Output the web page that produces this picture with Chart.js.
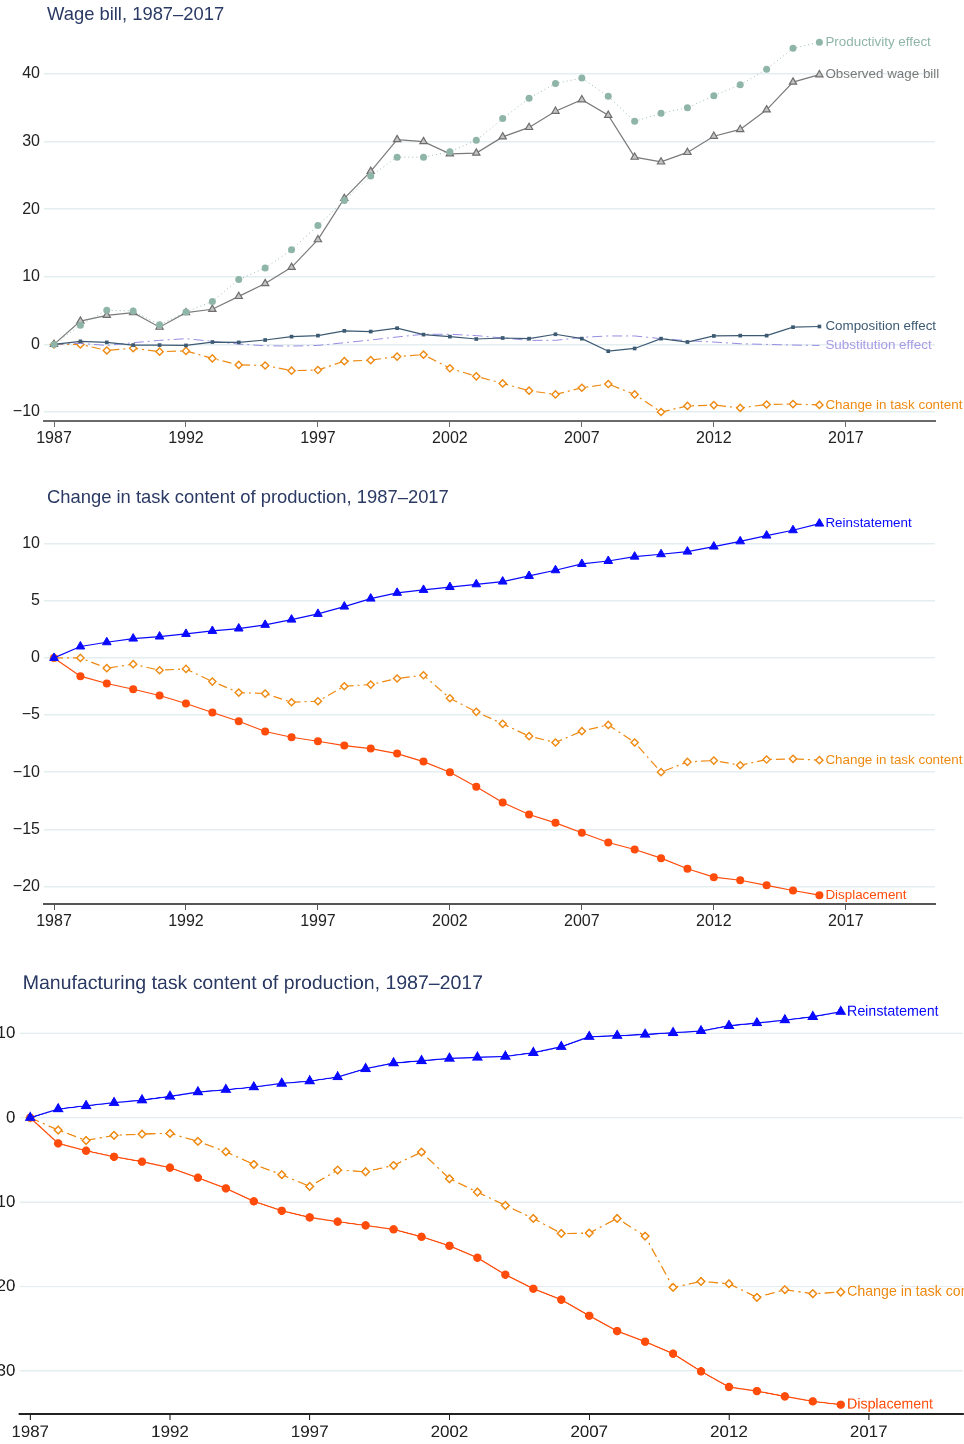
<!DOCTYPE html>
<html>
<head>
<meta charset="utf-8">
<script src="https://cdn.jsdelivr.net/npm/chart.js@4.4.1/dist/chart.umd.min.js"></script>
<style>
  html, body { margin:0; padding:0; background:#fff; }
  body { width:964px; height:1444px; overflow:hidden; position:relative; }
  .panel { position:absolute; left:0; width:964px; height:483px; }
  #p1 { top:0; }
  #p2 { top:483px; }
  /* third panel is a slightly enlarged copy, cut on both sides */
  #p3 { top:968px; left:-27px; transform:scale(1.059); transform-origin:0 0; }
</style>
</head>
<body>
<div class="panel" id="p1"><canvas id="c1" width="964" height="483"></canvas></div>
<div class="panel" id="p2"><canvas id="c2" width="964" height="483"></canvas></div>
<div class="panel" id="p3"><canvas id="c3" width="964" height="483"></canvas></div>
<script>
// ---- data (percent change since 1987) ----
const years = [1987,1988,1989,1990,1991,1992,1993,1994,1995,1996,1997,1998,1999,2000,2001,
               2002,2003,2004,2005,2006,2007,2008,2009,2010,2011,2012,2013,2014,2015,2016];
const yearTicks = [1987,1992,1997,2002,2007,2012,2017];

// panel 1: wage bill
const observedWageBill = [0,3.45,4.3,4.7,2.55,4.7,5.2,7.1,9.0,11.4,15.5,21.6,25.6,30.3,30.0,
                          28.2,28.3,30.7,32.1,34.5,36.2,33.9,27.7,27.0,28.4,30.8,31.8,34.7,38.8,39.9];
const productivityEffect = [0,2.85,5.07,4.93,2.9,4.8,6.35,9.6,11.3,14.0,17.6,21.3,24.9,27.7,27.7,
                            28.5,30.2,33.4,36.4,38.6,39.4,36.7,33.0,34.2,35.0,36.8,38.4,40.7,43.8,44.7];
const compositionEffect = [0,0.45,0.3,-0.1,-0.1,-0.15,0.35,0.3,0.65,1.15,1.3,2.0,1.9,2.4,1.45,
                           1.15,0.8,0.95,0.85,1.5,0.85,-1.0,-0.6,0.85,0.35,1.25,1.3,1.3,2.55,2.65];
const substitutionEffect = [0,0.15,-0.15,0.25,0.6,0.85,0.45,0.05,-0.2,-0.25,-0.15,0.25,0.65,1.1,1.5,
                            1.5,1.3,0.95,0.6,0.6,1.05,1.25,1.25,0.85,0.55,0.35,0.1,0,-0.1,-0.15];
const taskContentChange = [0,0,-0.9,-0.55,-1.08,-0.96,-2.07,-3.03,-3.12,-3.88,-3.79,-2.48,-2.33,-1.8,-1.52,
                           -3.53,-4.72,-5.77,-6.85,-7.4,-6.41,-5.86,-7.4,-10.0,-9.1,-8.98,-9.39,-8.89,-8.83,-8.95];
const wageTicks = [-10,0,10,20,30,40];

// panel 2: task content of production
const reinstatement = [0,1.0,1.37,1.69,1.87,2.1,2.36,2.57,2.89,3.35,3.85,4.49,5.19,5.69,5.95,
                       6.2,6.44,6.68,7.17,7.67,8.22,8.48,8.86,9.07,9.3,9.74,10.2,10.7,11.17,11.75];
const displacement = [0,-1.6,-2.24,-2.74,-3.29,-3.99,-4.78,-5.54,-6.44,-6.94,-7.29,-7.67,-7.93,-8.37,-9.07,
                      -10.0,-11.28,-12.65,-13.7,-14.43,-15.3,-16.15,-16.76,-17.52,-18.45,-19.18,-19.45,-19.9,-20.35,-20.76];
const taskTicks = [-20,-15,-10,-5,0,5,10];

// panel 3: manufacturing
const mfgReinstatement = [0,1.03,1.42,1.78,2.09,2.53,3.04,3.32,3.63,4.07,4.34,4.82,5.81,6.48,6.75,
                          7.03,7.15,7.27,7.7,8.41,9.6,9.72,9.87,10.07,10.27,10.9,11.22,11.57,11.97,12.56];
const mfgDisplacement = [0,-3.04,-3.91,-4.62,-5.21,-5.92,-7.11,-8.37,-9.91,-11.02,-11.81,-12.32,-12.76,-13.23,-14.1,
                         -15.17,-16.59,-18.6,-20.26,-21.56,-23.46,-25.28,-26.54,-27.96,-30.06,-31.91,-32.39,-33.02,-33.61,-34.0];
const mfgTaskChange = [0,-1.46,-2.69,-2.09,-1.94,-1.86,-2.8,-4.03,-5.53,-6.75,-8.14,-6.2,-6.4,-5.65,-4.07,
                       -7.23,-8.81,-10.39,-11.93,-13.71,-13.67,-11.93,-14.03,-20.1,-19.4,-19.67,-21.29,-20.38,-20.85,-20.66];
const mfgTicks = [-30,-20,-10,0,10];

(() => {
  const FONT = '"Liberation Sans", Arial, Helvetica, sans-serif';
  const el = (id) => document.getElementById(id);
  const pts = (arr) => arr.map((v, i) => ({ x: years[i], y: v }));
  const fmtNum = (v) => v < 0 ? "\u2212" + Math.abs(v) : String(v);

  // panel title, top left
  const titlePlugin = {
    id: "panelTitle",
    afterDraw(chart, args, opts){
      const ctx = chart.ctx;
      ctx.save();
      ctx.font = "18.4px " + FONT;
      ctx.fillStyle = "#2b3a64";
      ctx.textBaseline = "middle";
      ctx.textAlign = "left";
      ctx.fillText(opts.text, 47, 15);
      ctx.restore();
    }
  };

  // series name written next to the last point
  const endLabels = {
    id: "endLabels",
    afterDatasetsDraw(chart){
      const ctx = chart.ctx;
      ctx.save();
      ctx.font = "13.4px " + FONT;
      ctx.textBaseline = "middle";
      ctx.textAlign = "left";
      chart.data.datasets.forEach((ds, i) => {
        const meta = chart.getDatasetMeta(i);
        const last = meta.data[meta.data.length - 1];
        if(!last) return;
        ctx.fillStyle = ds.labelColor || ds.borderColor;
        ctx.fillText(ds.label, last.x + 6, last.y);
      });
      ctx.restore();
    }
  };

  function makePanel(canvas, title, yMin, yMax, yTicks, datasets, axisColor, dpr){
    return new Chart(canvas, {
      type: "line",
      data: { datasets },
      plugins: [titlePlugin, endLabels],
      options: {
        responsive: false,
        animation: false,
        devicePixelRatio: dpr || 1,
        layout: { autoPadding: false, padding: { left: 0, right: 29, top: 35, bottom: 0 } },
        plugins: {
          legend: { display: false },
          tooltip: { enabled: false },
          panelTitle: { text: title }
        },
        elements: { line: { tension: 0 } },
        scales: {
          x: {
            type: "linear",
            min: 1986.621,
            max: 2020.38,
            afterBuildTicks: (s) => { s.ticks = yearTicks.map(v => ({ value: v })); },
            afterFit: (s) => { s.height = 62; },
            ticks: { color: "#222", font: { size: 16, family: FONT }, padding: 2, maxRotation: 0, callback: (v) => String(v) },
            grid: { drawOnChartArea: false, drawTicks: true, tickLength: 6, tickColor: axisColor, tickWidth: 1 },
            border: { display: true, color: axisColor, width: 2 }
          },
          y: {
            min: yMin,
            max: yMax,
            afterBuildTicks: (s) => { s.ticks = yTicks.map(v => ({ value: v })); },
            afterFit: (s) => { s.width = 44; },
            ticks: { color: "#222", font: { size: 16, family: FONT }, padding: 4, callback: (v) => fmtNum(v) },
            grid: { color: "#e4edf0", lineWidth: 1.5, drawTicks: false },
            border: { display: false }
          }
        }
      }
    });
  }

  const taskStyle = (data) => ({
    label: "Change in task content", data: pts(data),
    borderColor: "#ee8a12", borderWidth: 1.2, borderDash: [9, 4, 2, 4],
    pointStyle: "rectRot", pointRadius: 3.6, pointBorderWidth: 1.4,
    pointBackgroundColor: "#fff", pointBorderColor: "#ee8a12"
  });
  const reinstStyle = (data) => ({
    label: "Reinstatement", data: pts(data),
    borderColor: "#0a0aff", borderWidth: 1.2,
    pointStyle: "triangle", pointRadius: 5, pointBorderWidth: 1,
    pointBackgroundColor: "#0a0aff", pointBorderColor: "#0a0aff"
  });
  const displStyle = (data) => ({
    label: "Displacement", data: pts(data),
    borderColor: "#ff4c0a", borderWidth: 1.2,
    pointStyle: "circle", pointRadius: 4, pointBorderWidth: 0,
    pointBackgroundColor: "#ff4c0a"
  });

  makePanel(el("c1"), "Wage bill, 1987\u20132017", -11.33, 45.77, wageTicks, [
    { label: "Productivity effect", data: pts(productivityEffect),
      borderColor: "#9dbdb3", borderWidth: 1, borderDash: [1, 3],
      pointStyle: "circle", pointRadius: 3.5, pointBorderWidth: 0,
      pointBackgroundColor: "#8fb5a9", labelColor: "#8fb5a9" },
    { label: "Observed wage bill", data: pts(observedWageBill),
      borderColor: "#7a7a7a", borderWidth: 1.2,
      pointStyle: "triangle", pointRadius: 4.2, pointBorderWidth: 1.2,
      pointBackgroundColor: "#c4c4c4", pointBorderColor: "#6e6e6e" },
    { label: "Composition effect", data: pts(compositionEffect),
      borderColor: "#3d5a73", borderWidth: 1.2,
      pointStyle: "rect", pointRadius: 2.6, pointBorderWidth: 0,
      pointBackgroundColor: "#3d5a73" },
    { label: "Substitution effect", data: pts(substitutionEffect),
      borderColor: "#958ce2", borderWidth: 1, borderDash: [10, 4, 2, 4],
      pointRadius: 0, labelColor: "#a69de6" },
    taskStyle(taskContentChange)
  ], "#6a6a6a");

  makePanel(el("c2"), "Change in task content of production, 1987\u20132017", -21.53, 12.24, taskTicks, [
    reinstStyle(reinstatement),
    taskStyle(taskContentChange),
    displStyle(displacement)
  ], "#555");

  makePanel(el("c3"), "Manufacturing task content of production, 1987\u20132017", -35.09, 13.35, mfgTicks, [
    reinstStyle(mfgReinstatement),
    taskStyle(mfgTaskChange),
    displStyle(mfgDisplacement)
  ], "#222", 2);
})();
</script>
</body>
</html>
